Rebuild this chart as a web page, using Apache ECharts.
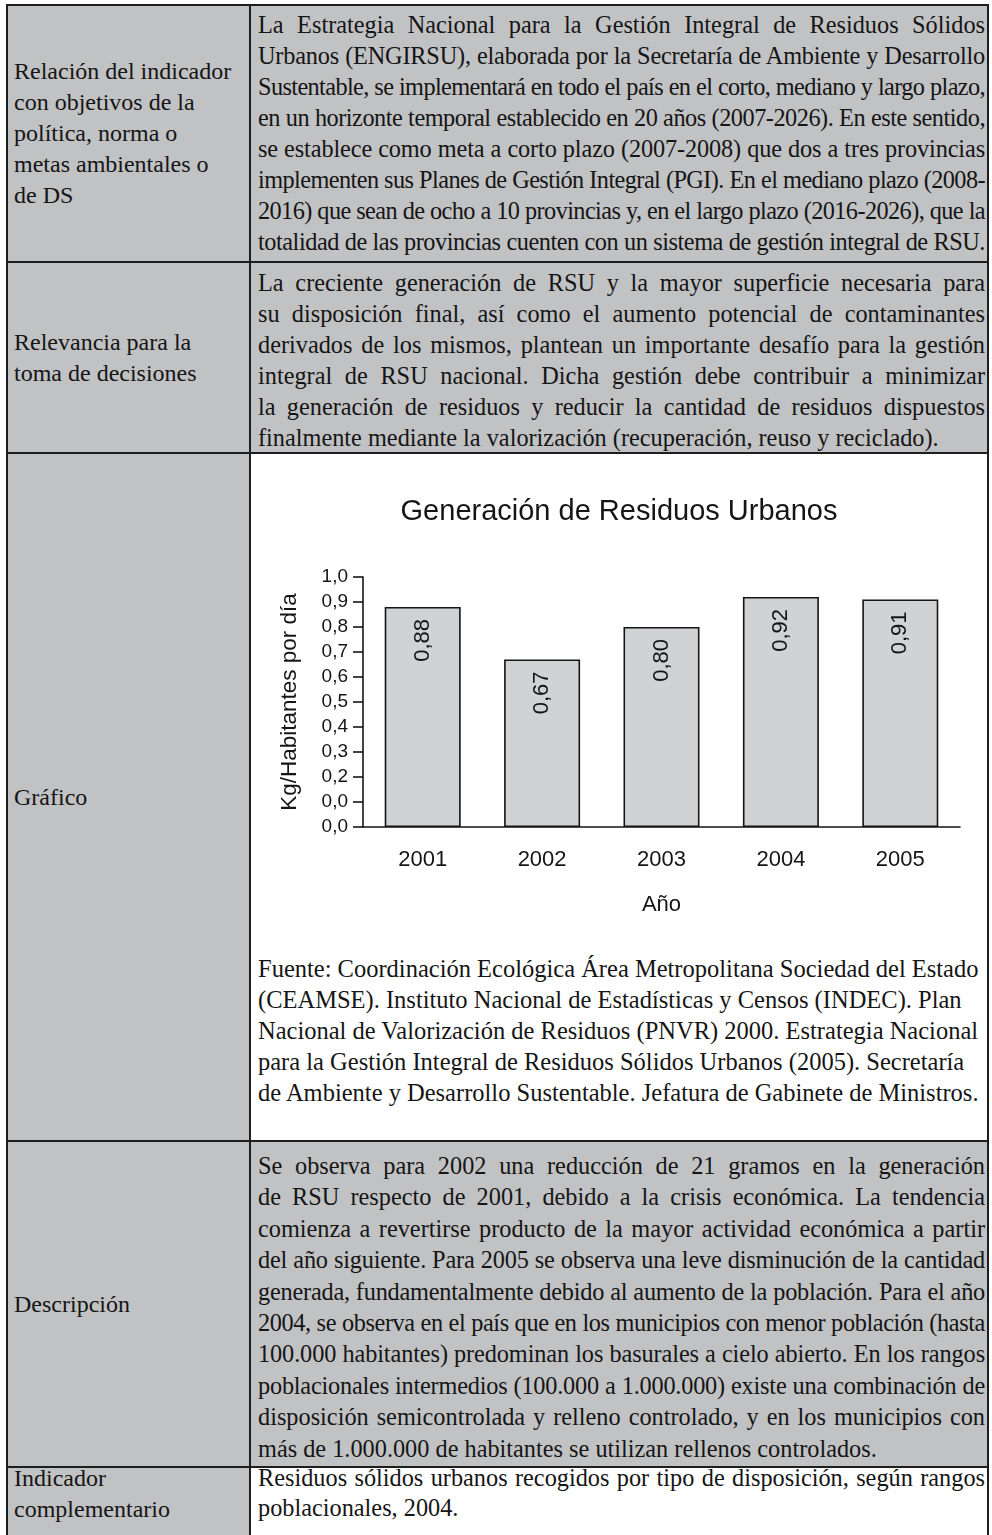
<!DOCTYPE html>
<html>
<head>
<meta charset="utf-8">
<script src="https://cdn.jsdelivr.net/npm/echarts@6/dist/echarts.min.js"></script>
<style>
  html, body { margin: 0; padding: 0; background: #fff; }
  #page { position: relative; width: 992px; height: 1535px; overflow: hidden; font-family: "Liberation Serif", "Times New Roman", serif; color: #151515; }
  .cell { position: absolute; }
  .gray { background: #c1c2c4; }
  .hl { position: absolute; height: 1.6px; background: #1e1e1e; }
  .vl { position: absolute; width: 1.6px; background: #1e1e1e; }
  .txt { position: absolute; font-size: 24.3px; line-height: 31px; }
  .ln { white-space: nowrap; text-align: left; }
  .ln.fit { text-align: justify; text-align-last: justify; }
  .left { position: absolute; left: 14px; width: 232px; display: flex; flex-direction: column; justify-content: center; font-size: 24px; line-height: 31px; }
  #chart { position: absolute; left: 251px; top: 454px; width: 736px; height: 490px; }
</style>
</head>
<body>
<div id="page">
  <!-- fondos -->
  <div class="cell gray" style="left:7px;top:5px;width:981px;height:448px"></div>
  <div class="cell gray" style="left:7px;top:453px;width:243px;height:688px"></div>
  <div class="cell gray" style="left:7px;top:1141px;width:981px;height:326px"></div>
  <div class="cell gray" style="left:7px;top:1467px;width:243px;height:80px"></div>

  <!-- bordes -->
  <div class="hl" style="left:7px;top:4px;width:982px"></div>
  <div class="hl" style="left:7px;top:261px;width:982px"></div>
  <div class="hl" style="left:7px;top:452px;width:982px"></div>
  <div class="hl" style="left:7px;top:1140px;width:982px"></div>
  <div class="hl" style="left:7px;top:1466px;width:982px"></div>
  <div class="vl" style="left:6px;top:4px;height:1540px"></div>
  <div class="vl" style="left:249px;top:4px;height:1540px"></div>
  <div class="vl" style="left:987px;top:4px;height:1540px"></div>

  <!-- columna izquierda -->
  <div class="left" style="top:5px;height:257px"><div>Relación del indicador</div><div>con objetivos de la</div><div>política, norma o</div><div>metas ambientales o</div><div>de DS</div></div>
  <div class="left" style="top:262px;height:191px"><div>Relevancia para la</div><div>toma de decisiones</div></div>
  <div class="left" style="top:453px;height:688px"><div>Gráfico</div></div>
  <div class="left" style="top:1141px;height:326px"><div>Descripción</div></div>
  <div class="left" style="top:1463px;height:62px;justify-content:flex-start"><div>Indicador</div><div>complementario</div></div>

  <!-- columna derecha -->
  <div class="txt" style="left:258px;top:9px;width:727px">
    <div class="ln j">La Estrategia Nacional para la Gestión Integral de Residuos Sólidos</div>
    <div class="ln j">Urbanos (ENGIRSU), elaborada por la Secretaría de Ambiente y Desarrollo</div>
    <div class="ln j">Sustentable, se implementará en todo el país en el corto, mediano y largo plazo,</div>
    <div class="ln j">en un horizonte temporal establecido en 20 años (2007-2026). En este sentido,</div>
    <div class="ln j">se establece como meta a corto plazo (2007-2008) que dos a tres provincias</div>
    <div class="ln j">implementen sus Planes de Gestión Integral (PGI). En el mediano plazo (2008-</div>
    <div class="ln j">2016) que sean de ocho a 10 provincias y, en el largo plazo (2016-2026), que la</div>
    <div class="ln j">totalidad de las provincias cuenten con un sistema de gestión integral de RSU.</div>
  </div>
  <div class="txt" style="left:258px;top:267px;width:727px">
    <div class="ln j">La creciente generación de RSU y la mayor superficie necesaria para</div>
    <div class="ln j">su disposición final, así como el aumento potencial de contaminantes</div>
    <div class="ln j">derivados de los mismos, plantean un importante desafío para la gestión</div>
    <div class="ln j">integral de RSU nacional. Dicha gestión debe contribuir a minimizar</div>
    <div class="ln j">la generación de residuos y reducir la cantidad de residuos dispuestos</div>
    <div class="ln">finalmente mediante la valorización (recuperación, reuso y reciclado).</div>
  </div>

  <div id="chart"></div>

  <div class="txt" style="left:258px;top:953px;width:727px;font-size:24.5px">
    <div class="ln">Fuente: Coordinación Ecológica Área Metropolitana Sociedad del Estado</div>
    <div class="ln">(CEAMSE). Instituto Nacional de Estadísticas y Censos (INDEC). Plan</div>
    <div class="ln">Nacional de Valorización de Residuos (PNVR) 2000. Estrategia Nacional</div>
    <div class="ln">para la Gestión Integral de Residuos Sólidos Urbanos (2005). Secretaría</div>
    <div class="ln">de Ambiente y Desarrollo Sustentable. Jefatura de Gabinete de Ministros.</div>
  </div>

  <div class="txt" style="left:258px;top:1150px;width:727px;line-height:31.4px">
    <div class="ln j">Se observa para 2002 una reducción de 21 gramos en la generación</div>
    <div class="ln j">de RSU respecto de 2001, debido a la crisis económica. La tendencia</div>
    <div class="ln j">comienza a revertirse producto de la mayor actividad económica a partir</div>
    <div class="ln j">del año siguiente. Para 2005 se observa una leve disminución de la cantidad</div>
    <div class="ln j">generada, fundamentalmente debido al aumento de la población. Para el año</div>
    <div class="ln j">2004, se observa en el país que en los municipios con menor población (hasta</div>
    <div class="ln j">100.000 habitantes) predominan los basurales a cielo abierto. En los rangos</div>
    <div class="ln j">poblacionales intermedios (100.000 a 1.000.000) existe una combinación de</div>
    <div class="ln j">disposición semicontrolada y relleno controlado, y en los municipios con</div>
    <div class="ln">más de 1.000.000 de habitantes se utilizan rellenos controlados.</div>
  </div>

  <div class="txt" style="left:258px;top:1463px;width:727px;line-height:30px">
    <div class="ln j">Residuos sólidos urbanos recogidos por tipo de disposición, según rangos</div>
    <div class="ln">poblacionales, 2004.</div>
  </div>
</div>

<script>
// datos del gráfico
const years = ['2001', '2002', '2003', '2004', '2005']
const kgPerHab = [0.88, 0.67, 0.80, 0.92, 0.91]
// etiquetas del eje tal como aparecen en el original
const yTickLabels = ['0,0', '0,0', '0,2', '0,3', '0,4', '0,5', '0,6', '0,7', '0,8', '0,9', '1,0']

// ajustar cada renglón al ancho de la columna (texto justificado, apretando el tracking si no entra)
document.querySelectorAll('.ln').forEach(function (el) {
  const span = document.createElement('span')
  span.textContent = el.textContent
  el.textContent = ''
  el.appendChild(span)
  const w = span.getBoundingClientRect().width
  const W = el.clientWidth
  if (w > W - 2) {
    const n = span.textContent.length
    el.style.letterSpacing = ((W - 2 - w) / n) + 'px'
  }
  if (el.classList.contains('j')) el.classList.add('fit')
})

const axisColor = '#151515'
const sans = 'Liberation Sans'

const myChart = echarts.init(document.getElementById('chart'))
myChart.setOption({
  animation: false,
  backgroundColor: '#fff',
  title: {
    text: 'Generación de Residuos Urbanos',
    left: 'center',
    top: 38,
    textStyle: { fontFamily: sans, fontSize: 29, fontWeight: 'normal', color: axisColor }
  },
  grid: { left: 112, top: 123, width: 597, height: 250 },
  xAxis: {
    type: 'category',
    data: years,
    name: 'Año',
    nameLocation: 'middle',
    nameGap: 67,
    nameTextStyle: { fontFamily: sans, fontSize: 22, color: axisColor },
    axisLine: { lineStyle: { color: axisColor, width: 1.6 } },
    axisTick: { length: 8, lineStyle: { color: axisColor, width: 1.6 } },
    axisLabel: { fontFamily: sans, fontSize: 22, color: axisColor, margin: 22 }
  },
  yAxis: {
    type: 'value',
    min: 0,
    max: 1,
    interval: 0.1,
    name: 'Kg/Habitantes por día',
    nameLocation: 'middle',
    nameGap: 62,
    nameTextStyle: { fontFamily: sans, fontSize: 22.5, color: axisColor },
    axisLine: { show: true, lineStyle: { color: axisColor, width: 1.6 } },
    axisTick: { show: true, length: 10, lineStyle: { color: axisColor, width: 1.6 } },
    axisLabel: {
      fontFamily: sans,
      fontSize: 19,
      color: axisColor,
      margin: 15,
      formatter: function (v) { return yTickLabels[Math.round(v * 10)] }
    },
    splitLine: { show: false }
  },
  series: [
    {
      type: 'bar',
      data: kgPerHab,
      barWidth: 76,
      itemStyle: { color: '#d1d2d4', borderColor: axisColor, borderWidth: 1.6 },
      label: {
        show: true,
        position: 'insideTop',
        rotate: 90,
        align: 'right',
        verticalAlign: 'middle',
        distance: 12,
        fontFamily: sans,
        fontSize: 22,
        color: axisColor,
        formatter: function (p) { return p.value.toFixed(2).replace('.', ',') }
      }
    }
  ]
})
</script>
</body>
</html>
